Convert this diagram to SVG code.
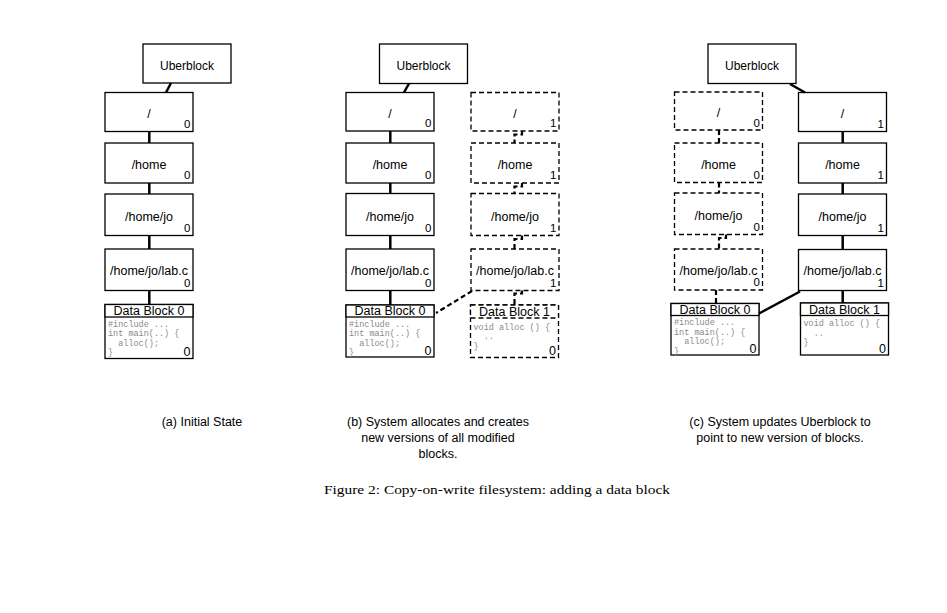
<svg xmlns="http://www.w3.org/2000/svg" width="947" height="613" viewBox="0 0 947 613">
<style>
.bx{fill:#fff;stroke:#000;stroke-width:1.3}
.dbx{fill:#fff;stroke:#000;stroke-width:1.3;stroke-dasharray:5 3}
.lbl{font-family:"Liberation Sans",Arial,sans-serif;font-size:12.5px;text-anchor:middle;fill:#000}
.ub{font-family:"Liberation Sans",Arial,sans-serif;font-size:12px;text-anchor:middle;fill:#000}
.num{font-family:"Liberation Sans",Arial,sans-serif;font-size:11.5px;text-anchor:end;fill:#000}
.dnum{font-family:"Liberation Sans",Arial,sans-serif;font-size:12.5px;text-anchor:end;fill:#000}
.hdr{font-family:"Liberation Sans",Arial,sans-serif;font-size:12.5px;text-anchor:middle;fill:#000}
.code{font-family:"Liberation Mono","Courier New",monospace;font-size:8.5px;fill:#8a8a8a;white-space:pre}
.cap{font-family:"Liberation Sans",Arial,sans-serif;font-size:12.5px;text-anchor:middle;fill:#000}
.fig{font-family:"Liberation Serif","Times New Roman",serif;font-size:13px;text-anchor:middle;fill:#000}
.c{fill:none;stroke:#000;stroke-width:2.5}
.dc{fill:none;stroke:#000;stroke-width:2.2;stroke-dasharray:5 3}
</style>

<!-- Panel (a) -->
<g id="a-uber"><rect class="bx" x="143" y="44" width="88" height="39"/><text class="ub" x="187" y="69.5">Uberblock</text></g>
<g id="a-root"><rect class="bx" x="105" y="92.5" width="88" height="39"/><text class="lbl" x="149" y="117.5">/</text><text class="num" x="190.5" y="127.5">0</text></g>
<g id="a-home"><rect class="bx" x="105" y="143" width="88" height="40"/><text class="lbl" x="149" y="169">/home</text><text class="num" x="190.5" y="179">0</text></g>
<g id="a-jo"><rect class="bx" x="105" y="194" width="88" height="41.5"/><text class="lbl" x="149" y="221">/home/jo</text><text class="num" x="190.5" y="231.5">0</text></g>
<g id="a-lab"><rect class="bx" x="105" y="249" width="88" height="41.5"/><text class="lbl" x="149" y="274.5">/home/jo/lab.c</text><text class="num" x="190.5" y="286.5">0</text></g>
<g id="a-data0"><rect class="bx" x="105" y="304.5" width="88" height="54"/><rect class="bx" x="105" y="304.5" width="88" height="12.5"/><text class="hdr" x="149" y="315">Data Block 0</text>
<text class="code" x="108" y="326.5">#include ...</text><text class="code" x="108" y="336">int main(..) {</text><text class="code" x="108" y="345.5">  alloc();</text><text class="code" x="108" y="355">}</text><text class="dnum" x="190.5" y="355.5">0</text></g>

<!-- Panel (b) -->
<g id="b-uber"><rect class="bx" x="379.5" y="44" width="88" height="39.5"/><text class="ub" x="423.5" y="69.5">Uberblock</text></g>
<g id="b-root0"><rect class="bx" x="346" y="92.5" width="88" height="38.5"/><text class="lbl" x="390" y="117.5">/</text><text class="num" x="431.5" y="127">0</text></g>
<g id="b-home0"><rect class="bx" x="346" y="143" width="88" height="40"/><text class="lbl" x="390" y="169">/home</text><text class="num" x="431.5" y="179">0</text></g>
<g id="b-jo0"><rect class="bx" x="346" y="193.5" width="88" height="42"/><text class="lbl" x="390" y="221">/home/jo</text><text class="num" x="431.5" y="231.5">0</text></g>
<g id="b-lab0"><rect class="bx" x="346" y="249" width="88" height="41.5"/><text class="lbl" x="390" y="274.5">/home/jo/lab.c</text><text class="num" x="431.5" y="286.5">0</text></g>
<g id="b-data0"><rect class="bx" x="346" y="305" width="88" height="52"/><rect class="bx" x="346" y="305" width="88" height="12"/><text class="hdr" x="390" y="315">Data Block 0</text>
<text class="code" x="349" y="326.5">#include ...</text><text class="code" x="349" y="336">int main(..) {</text><text class="code" x="349" y="345.5">  alloc();</text><text class="code" x="349" y="355">}</text><text class="dnum" x="431.5" y="354.5">0</text></g>
<g id="b-root1"><rect class="dbx" x="471" y="92.5" width="88" height="38.5"/><text class="lbl" x="515" y="117.5">/</text><text class="num" x="556.5" y="127">1</text></g>
<g id="b-home1"><rect class="dbx" x="471" y="143" width="88" height="40"/><text class="lbl" x="515" y="169">/home</text><text class="num" x="556.5" y="179">1</text></g>
<g id="b-jo1"><rect class="dbx" x="471" y="193.5" width="88" height="42"/><text class="lbl" x="515" y="221">/home/jo</text><text class="num" x="556.5" y="231.5">1</text></g>
<g id="b-lab1"><rect class="dbx" x="471" y="249" width="88" height="41.5"/><text class="lbl" x="515" y="274.5">/home/jo/lab.c</text><text class="num" x="556.5" y="286.5">1</text></g>
<g id="b-data1"><rect class="dbx" x="470.5" y="305" width="88" height="52.5"/><rect class="dbx" x="470.5" y="305" width="88" height="13"/><text class="hdr" x="514.5" y="315.5">Data Block 1</text>
<text class="code" x="473.5" y="329.5">void alloc () {</text><text class="code" x="473.5" y="339">  ..</text><text class="code" x="473.5" y="348.5">}</text><text class="dnum" x="556" y="355">0</text></g>

<!-- Panel (c) -->
<g id="c-uber"><rect class="bx" x="708" y="44" width="88" height="39.5"/><text class="ub" x="752" y="69.5">Uberblock</text></g>
<g id="c-root0"><rect class="dbx" x="674.5" y="92" width="88" height="38"/><text class="lbl" x="718.5" y="117">/</text><text class="num" x="760" y="126.5">0</text></g>
<g id="c-home0"><rect class="dbx" x="674.5" y="143" width="88" height="39.5"/><text class="lbl" x="718.5" y="168.5">/home</text><text class="num" x="760" y="178.5">0</text></g>
<g id="c-jo0"><rect class="dbx" x="674.5" y="193" width="88" height="41.5"/><text class="lbl" x="718.5" y="220">/home/jo</text><text class="num" x="760" y="230.5">0</text></g>
<g id="c-lab0"><rect class="dbx" x="674.5" y="249" width="88" height="41"/><text class="lbl" x="718.5" y="274.5">/home/jo/lab.c</text><text class="num" x="760" y="286">0</text></g>
<g id="c-data0"><rect class="bx" x="671" y="303.5" width="88" height="51.5"/><rect class="bx" x="671" y="303.5" width="88" height="12"/><text class="hdr" x="715" y="313.5">Data Block 0</text>
<text class="code" x="674" y="325">#include ...</text><text class="code" x="674" y="334.5">int main(..) {</text><text class="code" x="674" y="344">  alloc();</text><text class="code" x="674" y="353.5">}</text><text class="dnum" x="756.5" y="353">0</text></g>
<g id="c-root1"><rect class="bx" x="798.5" y="92.5" width="88" height="39"/><text class="lbl" x="842.5" y="117.5">/</text><text class="num" x="884" y="127.5">1</text></g>
<g id="c-home1"><rect class="bx" x="798.5" y="143" width="88" height="40"/><text class="lbl" x="842.5" y="169">/home</text><text class="num" x="884" y="179">1</text></g>
<g id="c-jo1"><rect class="bx" x="798.5" y="194" width="88" height="41.5"/><text class="lbl" x="842.5" y="221">/home/jo</text><text class="num" x="884" y="231.5">1</text></g>
<g id="c-lab1"><rect class="bx" x="798.5" y="249.5" width="88" height="41"/><text class="lbl" x="842.5" y="274.5">/home/jo/lab.c</text><text class="num" x="884" y="286.5">1</text></g>
<g id="c-data1"><rect class="bx" x="800.5" y="303" width="88" height="52"/><rect class="bx" x="800.5" y="303" width="88" height="12.5"/><text class="hdr" x="844.5" y="313.5">Data Block 1</text>
<text class="code" x="803.5" y="326">void alloc () {</text><text class="code" x="803.5" y="335.5">  ..</text><text class="code" x="803.5" y="345">}</text><text class="dnum" x="886" y="353">0</text></g>

<!-- Connectors -->
<g id="connectors">
<line class="c" x1="171" y1="83" x2="166" y2="92.5"/>
<line class="c" x1="149.3" y1="131.5" x2="149.3" y2="143"/>
<line class="c" x1="149.3" y1="183" x2="149.3" y2="194"/>
<line class="c" x1="149.3" y1="235.5" x2="149.3" y2="249"/>
<line class="c" x1="149.3" y1="290.5" x2="149.3" y2="304.5"/>

<line class="c" x1="409" y1="83.5" x2="404" y2="92.5"/>
<line class="c" x1="390.3" y1="131" x2="390.3" y2="143"/>
<line class="c" x1="390.3" y1="183" x2="390.3" y2="193.5"/>
<line class="c" x1="390.3" y1="235.5" x2="390.3" y2="249"/>
<line class="c" x1="390.3" y1="290.5" x2="390.3" y2="305"/>
<path class="dc" d="M522,131 V134.5 H514.5 V143"/>
<path class="dc" d="M522,183 V186.5 H514.5 V193.5"/>
<path class="dc" d="M522,235.5 V239 H514.5 V249"/>
<path class="dc" d="M522,290.5 V293.5 H514.5 V305"/>
<line class="dc" x1="472" y1="291" x2="436" y2="313"/>

<line class="c" x1="790" y1="84" x2="805" y2="92.5"/>
<line class="c" x1="842.7" y1="131.5" x2="842.7" y2="143"/>
<line class="c" x1="842.7" y1="183" x2="842.7" y2="194"/>
<line class="c" x1="842.7" y1="235.5" x2="842.7" y2="249.5"/>
<line class="c" x1="842.7" y1="290.5" x2="842.7" y2="303"/>
<path class="dc" d="M719,130 V143"/>
<path class="dc" d="M719,182.5 V193"/>
<path class="dc" d="M726,234.5 V238 H719 V249"/>
<path class="dc" d="M716,290 V303.5"/>
<line class="c" x1="800" y1="291.5" x2="759" y2="313.5"/>
</g>

<!-- Captions -->
<g id="captions">
<text class="cap" x="202" y="426">(a) Initial State</text>
<text class="cap" x="438" y="426">(b) System allocates and creates</text>
<text class="cap" x="438" y="442">new versions of all modified</text>
<text class="cap" x="438" y="458">blocks.</text>
<text class="cap" x="780" y="426">(c) System updates Uberblock to</text>
<text class="cap" x="780" y="442">point to new version of blocks.</text>
<text class="fig" x="497" y="494" textLength="346" lengthAdjust="spacingAndGlyphs">Figure 2: Copy-on-write filesystem: adding a data block</text>
</g>
</svg>
